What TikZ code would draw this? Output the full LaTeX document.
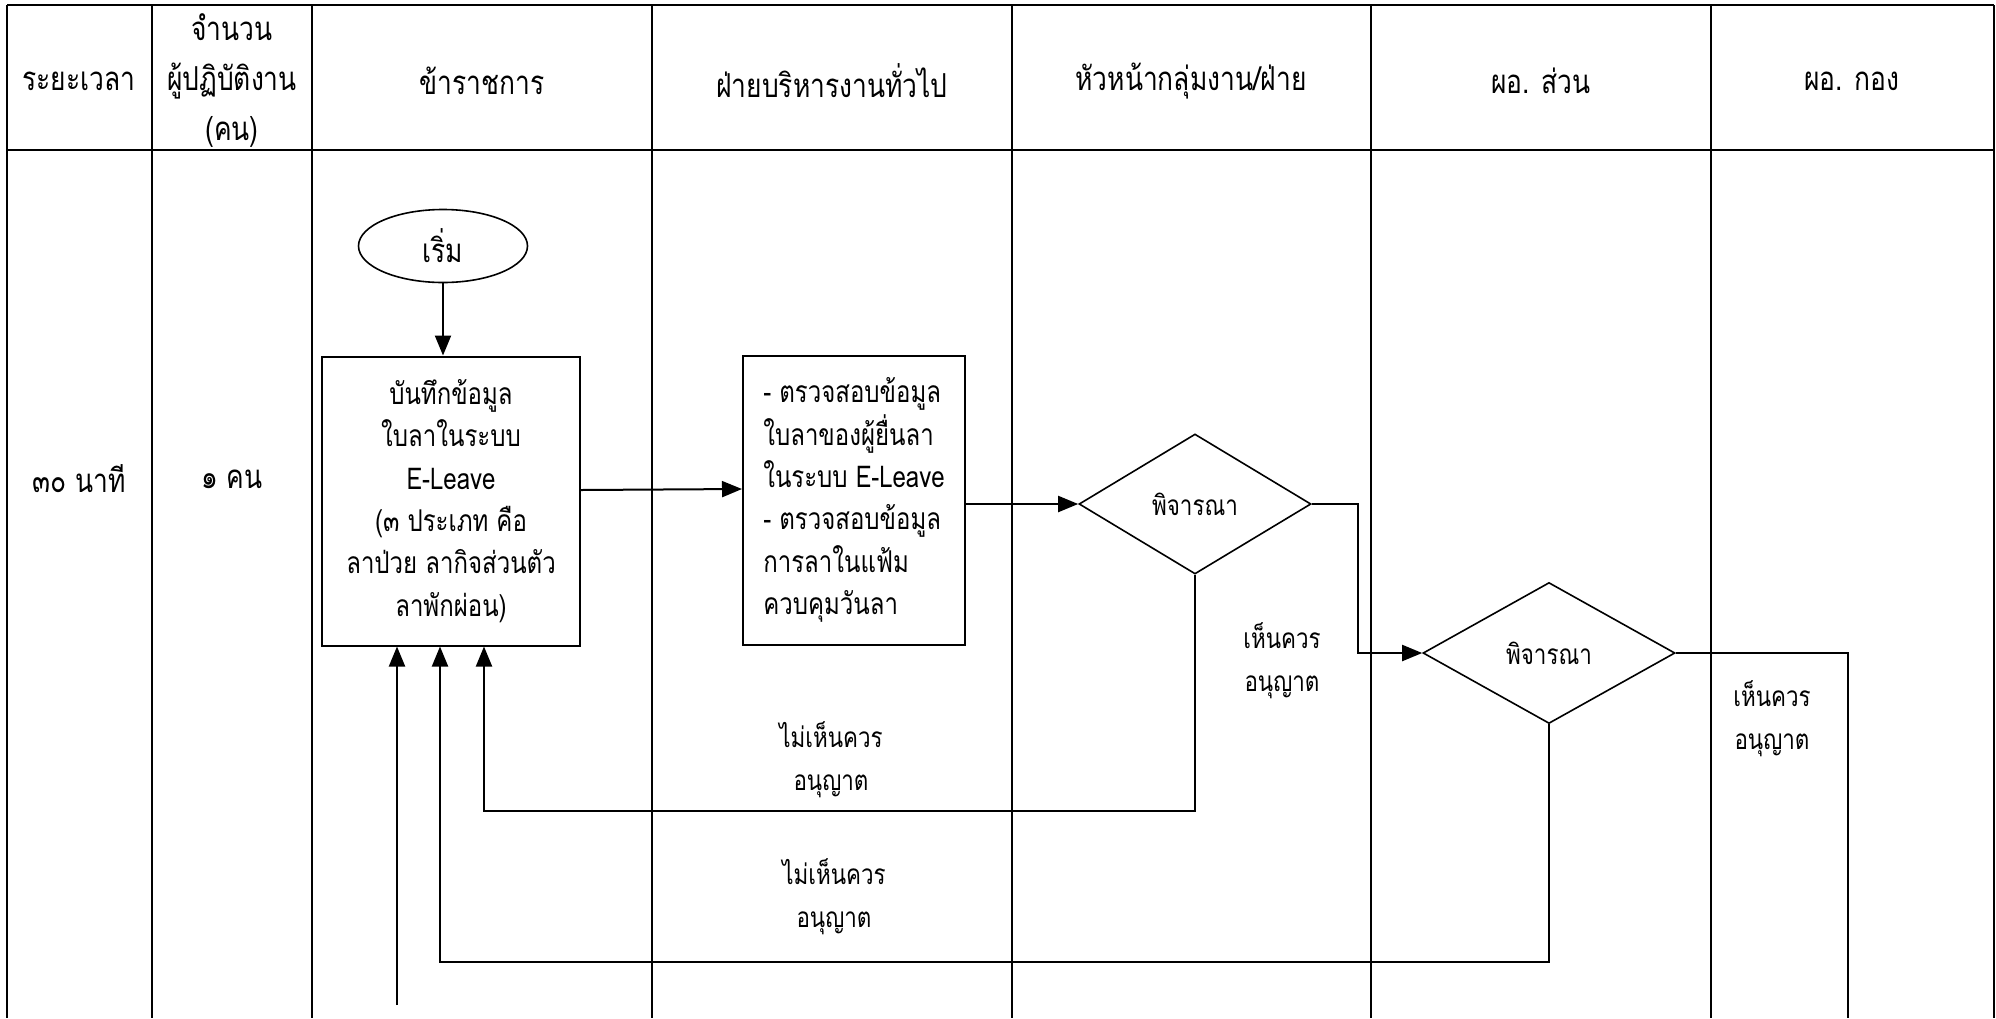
\documentclass[tikz,border=0pt]{standalone}
\usepackage{fontspec}
\newfontfamily\thaifont[Script=Thai,FakeStretch=0.8]{Loma}
\usetikzlibrary{shapes.geometric,arrows.meta}
\begin{document}
\begin{tikzpicture}[x=0.5pt,y=-0.5pt,
		every node/.style={font=\thaifont\fontsize{15}{21.2}\selectfont,align=center,inner sep=0pt},
		head/.style={font=\thaifont\fontsize{16.5}{25}\selectfont},
		grid/.style={line width=1.2pt},
		flow/.style={line width=1pt},
		arr/.style={flow,-{Triangle[length=10pt,width=8pt]}},
		proc/.style={draw,line width=1pt,minimum height=144.5pt},
		decide/.style={draw,diamond,line width=0.8pt,aspect=1.7,font=\thaifont\fontsize{14}{20}\selectfont},
		lbl/.style={font=\thaifont\fontsize{14}{21.5}\selectfont}]
	\useasboundingbox (0,0) rectangle (1996,1018);
	% table
	\draw[grid] (7,5) -- (1994,5);
	\draw[grid] (7,150) -- (1994,150);
	\foreach \cx in {7,152,312,652,1012,1371,1711,1994}
		\draw[grid] (\cx,5) -- (\cx,1018);
	\node[head] (h1) at (79,81) {ระยะเวลา};
	\node[head] (h2) at (232,81) {จำนวน\\ผู้ปฏิบัติงาน\\(คน)};
	\node[head] (h3) at (482,81) {ข้าราชการ};
	\node[head] (h4) at (832,81) {ฝ่ายบริหารงานทั่วไป};
	\node[head] (h5) at (1191,81) {หัวหน้ากลุ่มงาน/ฝ่าย};
	\node[head] (h6) at (1541,81) {ผอ. ส่วน};
	\node[head] (h7) at (1852,81) {ผอ. กอง};
	\node[head] (time) at (79,479) {๓๐ นาที};
	\node[head] (staff) at (232,479) {๑ คน};
	% flow
	\node[draw,ellipse,line width=0.8pt,minimum width=84.5pt,minimum height=36.5pt,font=\thaifont\fontsize{16.5}{20}\selectfont] (start) at (443,246) {เริ่ม};
	\node[proc,minimum width=129pt] (rec) at (451,501) {บันทึกข้อมูล\\ใบลาในระบบ\\E-Leave\\(๓ ประเภท คือ\\ลาป่วย ลากิจส่วนตัว\\ลาพักผ่อน)};
	\node[proc,minimum width=111pt,align=left] (chk) at (854,500) {- ตรวจสอบข้อมูล\\ใบลาของผู้ยื่นลา\\ในระบบ E-Leave\\- ตรวจสอบข้อมูล\\การลาในแฟ้ม\\ควบคุมวันลา};
	\node[decide,minimum width=116pt,minimum height=70pt] (dec1) at (1195,504) {พิจารณา};
	\node[decide,minimum width=126pt,minimum height=70.5pt] (dec2) at (1549,653) {พิจารณา};
	\coordinate (back1) at (484,811);
	\coordinate (back2) at (440,962);
	\coordinate (in1) at (397,1005);
	\coordinate (out1) at (1848,1018);
	\draw[arr] (start) -- (start |- rec.north);
	\draw[arr] ([yshift=5.5pt]rec.east) -- ([yshift=5.5pt]chk.west);
	\draw[arr] (chk.east |- dec1.west) -- (dec1.west);
	\draw[arr] (dec1.east) -- ++(46,0) |- (dec2.west);
	\draw[arr] (dec1.south) |- (back1) -- (back1 |- rec.south);
	\draw[arr] (dec2.south) |- (back2) -- (back2 |- rec.south);
	\draw[arr] (in1) -- (in1 |- rec.south);
	\draw[flow] (dec2.east) -| (out1);
	\node[lbl] (yes1) at (1282,661) {เห็นควร\\อนุญาต};
	\node[lbl] (yes2) at (1772,719) {เห็นควร\\อนุญาต};
	\node[lbl] (no1) at (831,760) {ไม่เห็นควร\\อนุญาต};
	\node[lbl] (no2) at (834,897) {ไม่เห็นควร\\อนุญาต};
\end{tikzpicture}
\end{document}
